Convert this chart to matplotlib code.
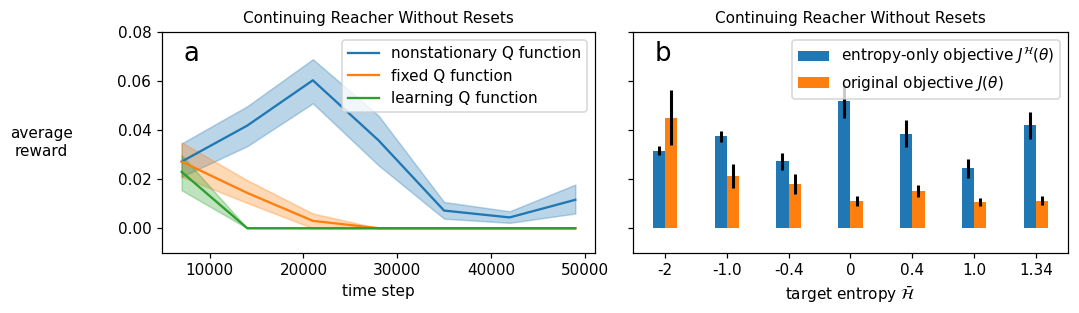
import matplotlib.pyplot as plt
import numpy as np

# ------------------------------------------------------
# Data
# ------------------------------------------------------
steps = [7000, 14000, 21000, 28000, 35000, 42000, 49000]

ns_mean = [0.0272, 0.0419, 0.0604, 0.0359, 0.0072, 0.0044, 0.0116]
ns_low = [0.0210, 0.0335, 0.0510, 0.0257, 0.0039, 0.0022, 0.0060]
ns_high = [0.0346, 0.0498, 0.0690, 0.0460, 0.0107, 0.0069, 0.0178]

fixed_mean = [0.0272, 0.0144, 0.0030, 0.0, 0.0, 0.0, 0.0]
fixed_low = [0.0210, 0.0103, 0.0000, 0.0, 0.0, 0.0, 0.0]
fixed_high = [0.0350, 0.0196, 0.0060, 0.0, 0.0, 0.0, 0.0]

learn_mean = [0.0230, 0.0, 0.0, 0.0, 0.0, 0.0, 0.0]
learn_low = [0.0155, 0.0, 0.0, 0.0, 0.0, 0.0, 0.0]
learn_high = [0.0298, 0.0, 0.0, 0.0, 0.0, 0.0, 0.0]

entropy_labels = ["-2", "-1.0", "-0.4", "0", "0.4", "1.0", "1.34"]
entropy_only = [0.0316, 0.0376, 0.0273, 0.0518, 0.0386, 0.0244, 0.0420]
entropy_only_err = [0.0019, 0.0022, 0.0035, 0.0067, 0.0054, 0.0040, 0.0055]
original = [0.0452, 0.0214, 0.0180, 0.0110, 0.0151, 0.0107, 0.0113]
original_err = [0.0112, 0.0048, 0.0041, 0.0020, 0.0025, 0.0016, 0.0017]

TITLE = "Continuing Reacher Without Resets"

# ------------------------------------------------------
# Figure (rendered a bit larger than 100 dpi, like the original)
# ------------------------------------------------------
DPI = 110
fig = plt.figure(figsize=(1079 / DPI, 313 / DPI), dpi=DPI)
ax1 = fig.add_axes([0.1501, 0.1927, 0.4013, 0.7041])
ax2 = fig.add_axes([0.5866, 0.1927, 0.4032, 0.7041], sharey=ax1)

# panel a
series = [
    ("nonstationary Q function", ns_mean, ns_low, ns_high, "C0"),
    ("fixed Q function", fixed_mean, fixed_low, fixed_high, "C1"),
    ("learning Q function", learn_mean, learn_low, learn_high, "C2"),
]
for label, mean, lo, hi, col in series:
    ax1.plot(steps, mean, color=col, label=label)
    ax1.fill_between(steps, lo, hi, color=col, alpha=0.3)

ax1.set_ylim(-0.01, 0.08)
ax1.set_yticks([0.0, 0.02, 0.04, 0.06, 0.08])
ax1.set_xlabel("time step")
ax1.set_ylabel("average\nreward", rotation=0, ha="center", va="center")
ax1.yaxis.set_label_coords(-0.278, 0.5)
ax1.set_title(TITLE, fontsize=10)
ax1.legend(loc="upper right")
ax1.text(0.05, 0.9, "a", transform=ax1.transAxes, fontsize=17, va="center")

# panel b
x = np.arange(len(entropy_labels))
w = 0.2
ax2.bar(x - w / 2, entropy_only, w, color="C0",
        label=r"entropy-only objective $J^{\mathcal{H}}(\theta)$")
ax2.bar(x + w / 2, original, w, color="C1",
        label=r"original objective $J(\theta)$")
ax2.errorbar(x - w / 2, entropy_only, yerr=entropy_only_err, fmt="none",
             ecolor="black", elinewidth=2)
ax2.errorbar(x + w / 2, original, yerr=original_err, fmt="none",
             ecolor="black", elinewidth=2)
ax2.set_xticks(x)
ax2.set_xticklabels(entropy_labels)
ax2.tick_params(axis="y", labelleft=False)
ax2.set_xlabel(r"target entropy $\bar{\mathcal{H}}$")
ax2.set_title(TITLE, fontsize=10)
ax2.legend(loc="upper right")
ax2.text(0.05, 0.9, "b", transform=ax2.transAxes, fontsize=17, va="center")

fig.savefig("out.png", dpi=DPI)
